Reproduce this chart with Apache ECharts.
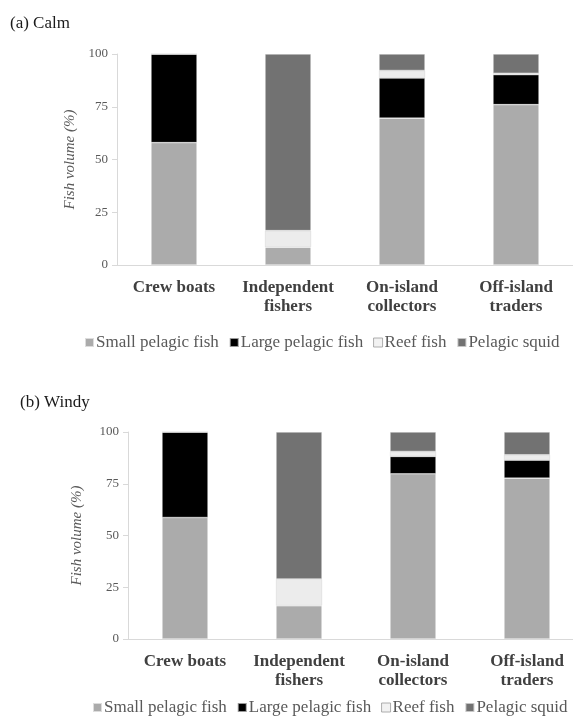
<!DOCTYPE html>
<html>
<head>
<meta charset="utf-8">
<script src="https://cdn.jsdelivr.net/npm/echarts@6/dist/echarts.min.js"></script>
<style>
html,body{margin:0;padding:0;background:#fff;}
#chart{width:573px;height:717px;}
</style>
</head>
<body>
<div id="chart"></div>
<script>
var categories = ['Crew boats', 'Independent\nfishers', 'On-island\ncollectors', 'Off-island\ntraders'];
var seriesNames = ['Small pelagic fish', 'Large pelagic fish', 'Reef fish', 'Pelagic squid'];
var yTicks = [0, 25, 50, 75, 100];

var calmSmall = [58.0, 8.4, 69.6, 76.0];
var calmLarge = [42.0, 0, 19.0, 14.2];
var calmReef  = [0, 7.9, 3.6, 0.7];
var calmSquid = [0, 83.7, 7.8, 9.1];

var windySmall = [58.7, 16.1, 79.8, 77.7];
var windyLarge = [41.3, 0, 8.4, 8.7];
var windyReef  = [0, 12.9, 2.4, 2.6];
var windySquid = [0, 71.0, 9.4, 11.0];

var FONT = "'Liberation Serif', 'Times New Roman', serif";
var colors = ['#ababab', '#000000', '#ececec', '#727272'];

function mkSeries(name, data, idx, k, stack) {
  return {
    name: name, type: 'bar', stack: stack, xAxisIndex: idx, yAxisIndex: idx,
    data: data, barWidth: 46,
    itemStyle: {color: colors[k], borderColor: k === 2 ? '#d8d8d8' : 'rgba(255,255,255,0.6)', borderWidth: 0.6},
    emphasis: {disabled: true}
  };
}

function yAxis(idx, gap) {
  return {
    gridIndex: idx, type: 'value', min: yTicks[0], max: yTicks[yTicks.length - 1], interval: 25,
    name: 'Fish volume (%)', nameLocation: 'middle', nameGap: gap, nameRotate: 90,
    nameTextStyle: {fontFamily: FONT, fontStyle: 'italic', fontSize: 15, color: '#595959'},
    axisLine: {show: true, lineStyle: {color: '#d9d9d9', width: 1}},
    axisTick: {show: true, length: 5, lineStyle: {color: '#d9d9d9'}},
    splitLine: {show: false},
    axisLabel: {fontFamily: FONT, fontSize: 13, color: '#595959', margin: 9}
  };
}
function xAxis(idx) {
  return {
    gridIndex: idx, type: 'category', data: categories,
    axisLine: {show: true, lineStyle: {color: '#d9d9d9', width: 1}},
    axisTick: {show: false},
    axisLabel: {fontFamily: FONT, fontSize: 17, fontWeight: 'bold', color: '#404040', lineHeight: 19, margin: 13, interval: 0}
  };
}
function legend(left, top) {
  return {
    left: left, top: top, icon: 'rect', itemWidth: 9, itemHeight: 9, itemGap: 10,
    data: seriesNames.map(function (n, k) {
      return {name: n, itemStyle: k === 2 ? {color: '#f2f2f2', borderColor: '#9a9a9a', borderWidth: 0.8} : {}};
    }),
    textStyle: {fontFamily: FONT, fontSize: 17, color: '#595959', padding: [0, 0, 0, -3]},
    selectedMode: false
  };
}

var chart = echarts.init(document.getElementById('chart'));
chart.setOption({
  animation: false,
  backgroundColor: '#fff',
  title: [
    {text: '(a) Calm', left: 5, top: 10, textStyle: {fontFamily: FONT, fontSize: 17, fontWeight: 'normal', color: '#1a1a1a'}},
    {text: '(b) Windy', left: 15, top: 389, textStyle: {fontFamily: FONT, fontSize: 17, fontWeight: 'normal', color: '#1a1a1a'}}
  ],
  legend: [legend(79, 329), legend(87, 694)],
  grid: [
    {left: 117, top: 54, width: 456, height: 211, outerBoundsMode: 'none'},
    {left: 128, top: 432, width: 456, height: 207, outerBoundsMode: 'none'}
  ],
  xAxis: [xAxis(0), xAxis(1)],
  yAxis: [yAxis(0, 35), yAxis(1, 43)],
  series: [
    mkSeries(seriesNames[0], calmSmall, 0, 0, 'a'),
    mkSeries(seriesNames[1], calmLarge, 0, 1, 'a'),
    mkSeries(seriesNames[2], calmReef, 0, 2, 'a'),
    mkSeries(seriesNames[3], calmSquid, 0, 3, 'a'),
    mkSeries(seriesNames[0], windySmall, 1, 0, 'b'),
    mkSeries(seriesNames[1], windyLarge, 1, 1, 'b'),
    mkSeries(seriesNames[2], windyReef, 1, 2, 'b'),
    mkSeries(seriesNames[3], windySquid, 1, 3, 'b')
  ]
});
</script>
</body>
</html>
